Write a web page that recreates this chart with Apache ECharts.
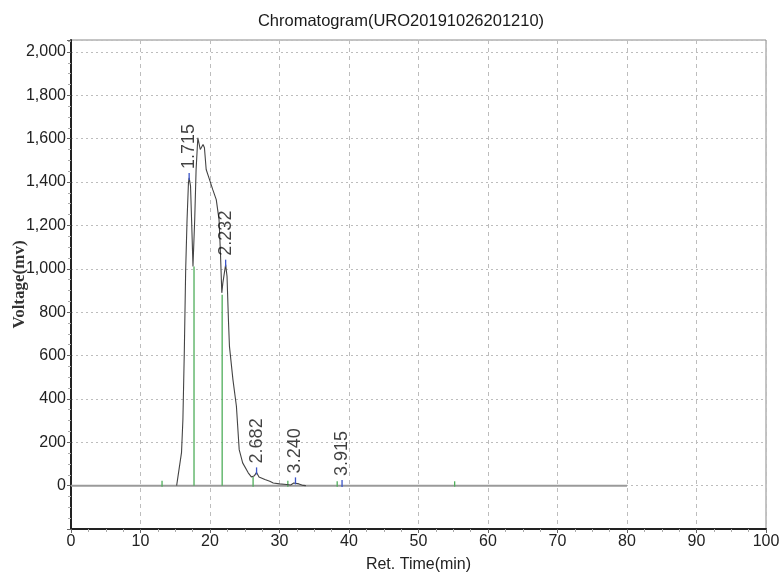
<!DOCTYPE html>
<html>
<head>
<meta charset="utf-8">
<script src="https://cdn.jsdelivr.net/npm/echarts@6/dist/echarts.min.js"></script>
<style>html,body{margin:0;padding:0;background:#fff}#c{width:782px;height:579px}</style>
</head>
<body>
<div id="c"></div>
<script>
// ---- data ----
var titleText = 'Chromatogram(URO20191026201210)';
var xName = 'Ret. Time(min)';
var yName = 'Voltage(mv)';

var curveT = [15.2, 15.4, 15.9, 16.1, 16.3, 16.5, 16.7, 16.9, 17.0, 17.2, 17.35, 17.55, 17.8, 18.0, 18.25, 18.4, 18.6, 18.75, 19.0, 19.2, 19.45, 19.85, 20.4, 20.9, 21.3, 21.5, 21.7, 21.85, 22.25, 22.45, 22.65, 22.8, 23.3, 23.8, 24.2, 24.7, 25.5, 25.95, 26.4, 26.7, 27.05, 27.9, 28.6, 29.1, 30.0, 31.0, 31.6, 32.05, 32.3, 32.8, 33.4, 33.8];
var curveV = [0, 5, 152, 304, 613, 996, 1227, 1397, 1419, 1381, 1227, 1011, 1227, 1458, 1604, 1608, 1550, 1542, 1573, 1558, 1458, 1419, 1365, 1319, 1227, 1075, 889, 935, 1019, 965, 766, 642, 489, 366, 166, 105, 59, 40, 46, 61, 40, 28, 20, 12, 8, 5, 3, 12, 15, 8, 1, 0];

var baselineT = [0, 80];
var baselineV = [0, 0];

var dropT = [17.7, 21.75];
var dropV = [1011, 880];

var startEndT = [13.1, 26.2, 31.2, 38.3, 55.2];
var startEndV = [22, 40, 22, 20, 20];

var peakT = [17.0, 22.25, 26.7, 32.3, 39.0];
var peakV = [1419, 1019, 61, 15, 3];
var peakLabels = ['1.715', '2.232', '2.682', '3.240', '3.915'];

var xMin = 0, xMax = 100, xStep = 10;
var yMin = -200, yMax = 2055, yStep = 200;

// ---- build ----
function zip(a, b) { return a.map(function (v, i) { return [v, b[i]]; }); }

var chart = echarts.init(document.getElementById('c'), null, { renderer: 'canvas' });
var tickFont = "Arial, 'Liberation Sans', sans-serif";

var option = {
  backgroundColor: '#ffffff',
  animation: false,
  title: {
    text: titleText,
    left: 396, top: 8, textAlign: 'center',
    textStyle: { fontFamily: 'Arial, Liberation Sans, sans-serif', fontSize: 16.5, fontWeight: 'normal', color: '#1a1a1a' }
  },
  grid: { left: 71, right: 16, top: 40, bottom: 50, containLabel: false, outerBoundsMode: 'none', show: true, borderColor: '#8a8a8a', borderWidth: 1, backgroundColor: 'transparent' },
  xAxis: {
    type: 'value', min: xMin, max: xMax, interval: xStep,
    name: xName, nameLocation: 'middle', nameGap: 28, nameMoveOverlap: false,
    nameTextStyle: { fontFamily: tickFont, fontSize: 16, color: '#222' },
    axisLine: { onZero: false, lineStyle: { color: '#222', width: 2 } },
    axisTick: { show: true, length: 4, lineStyle: { color: '#666' } },
    minorTick: { show: true, splitNumber: 4, length: 3, lineStyle: { color: '#aaa' } },
    splitLine: { show: true, lineStyle: { type: [4, 4], color: '#bdbdbd', width: 1 } },
    axisLabel: { fontFamily: tickFont, fontSize: 16, color: '#222', margin: 5 }
  },
  yAxis: {
    type: 'value', min: yMin, max: yMax, interval: yStep,
    name: yName, nameLocation: 'middle', nameGap: 43, nameRotate: 90, nameMoveOverlap: false,
    nameTextStyle: { fontFamily: "'Liberation Serif', 'Times New Roman', serif", fontSize: 17, fontWeight: 'bold', color: '#333' },
    axisLine: { onZero: false, lineStyle: { color: '#222', width: 2 } },
    axisTick: { show: true, length: 4, lineStyle: { color: '#666' } },
    minorTick: { show: true, splitNumber: 4, length: 3, lineStyle: { color: '#aaa' } },
    splitLine: { show: true, lineStyle: { type: [2, 3], color: '#bdbdbd', width: 1 } },
    axisLabel: {
      fontFamily: tickFont, fontSize: 16, color: '#222', margin: 5,
      formatter: function (v) { return (v < 0 || v > 2000) ? '' : v.toLocaleString('en-US'); }
    }
  },
  series: [
    {
      name: 'baseline', type: 'line', data: zip(baselineT, baselineV), symbol: 'none',
      lineStyle: { color: '#9a9a9a', width: 2 }, z: 2, silent: true
    },
    {
      name: 'drop', type: 'custom', data: zip(dropT, dropV), z: 3, silent: true,
      renderItem: function (params, api) {
        var p0 = api.coord([api.value(0), 0]);
        var p1 = api.coord([api.value(0), api.value(1)]);
        return { type: 'line', shape: { x1: p0[0], y1: p0[1], x2: p1[0], y2: p1[1] }, style: { stroke: '#4fae5a', lineWidth: 1.3 } };
      }
    },
    {
      name: 'startEnd', type: 'custom', data: zip(startEndT, startEndV), z: 3, silent: true,
      renderItem: function (params, api) {
        var p0 = api.coord([api.value(0), 0]);
        var p1 = api.coord([api.value(0), api.value(1)]);
        return { type: 'line', shape: { x1: p0[0], y1: p0[1] + 1, x2: p1[0], y2: p1[1] }, style: { stroke: '#4fae5a', lineWidth: 1.3 } };
      }
    },
    {
      name: 'curve', type: 'line', data: zip(curveT, curveV), symbol: 'none',
      lineStyle: { color: '#444444', width: 1.1 }, z: 4, silent: true
    },
    {
      name: 'apex', type: 'custom', data: zip(peakT, peakV), z: 5, silent: true,
      renderItem: function (params, api) {
        var p = api.coord([api.value(0), api.value(1)]);
        return { type: 'line', shape: { x1: p[0], y1: p[1] - 5, x2: p[0], y2: p[1] + 2 }, style: { stroke: '#3b55c8', lineWidth: 1.3 } };
      }
    },
    {
      name: 'peaks', type: 'scatter', data: zip(peakT, peakV), symbolSize: 0, z: 6, silent: true,
      label: {
        show: true, position: 'top', distance: 9, rotate: 90, align: 'left', verticalAlign: 'middle',
        fontFamily: 'Arial, Liberation Sans, sans-serif', fontSize: 18, color: '#111',
        formatter: function (p) { return peakLabels[p.dataIndex]; }
      }
    }
  ]
};
chart.setOption(option);
</script>
</body>
</html>
